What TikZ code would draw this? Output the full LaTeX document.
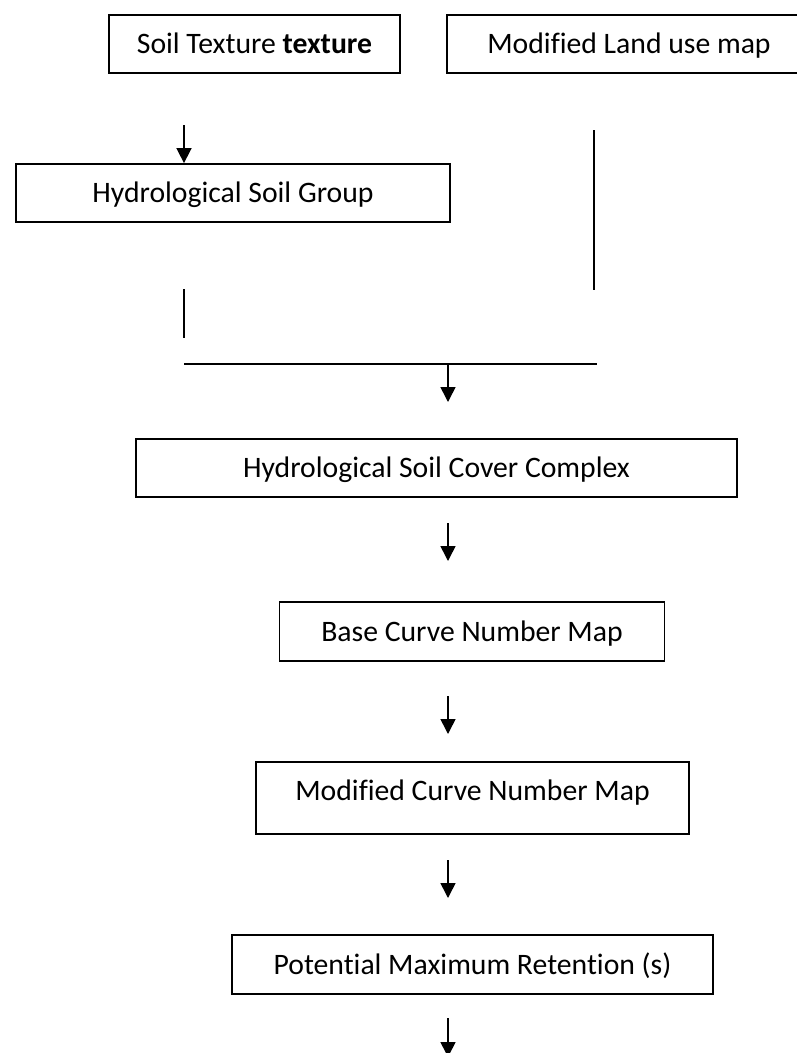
\documentclass[tikz,border=0pt]{standalone}
\usepackage{fontspec}
\setmainfont[Ligatures=NoCommon]{Carlito}
\usetikzlibrary{arrows.meta}
\tikzset{
  x=1pt, y=-1pt,
  stage/.style={draw, line width=1.8pt, inner sep=0pt, align=center,
    text height=19pt, text depth=0pt,
    font=\fontsize{29.7}{35}\selectfont},
  link/.style={line width=1.6pt},
  flow/.style={line width=1.6pt, -{Triangle[length=15pt, width=15pt]}}
}
\begin{document}
\begin{tikzpicture}
\useasboundingbox (0,0) rectangle (797,1053);
\clip (0,0) rectangle (797,1053);

% input layers
\node[stage, minimum width=291pt, minimum height=58pt] (soil) at (254.5,44) {Soil Texture \textbf{texture}};
\node[stage, minimum width=364pt, minimum height=58pt] (land) at (629,44) {Modified Land use map};
\node[stage, minimum width=434pt, minimum height=58pt] (hsg) at (233,193) {Hydrological Soil Group};

% processing chain
\node[stage, minimum width=601pt, minimum height=58pt] (hscc) at (436.5,468) {Hydrological Soil Cover Complex};
\node[stage, minimum width=385pt, minimum height=59pt] (bcn) at (472,631.5) {Base Curve Number Map};
\node[stage, minimum width=433pt, minimum height=72pt, text depth=15pt] (mcn) at (472.5,798) {Modified Curve Number Map};
\node[stage, minimum width=481pt, minimum height=59pt] (pmr) at (472.5,964.5) {Potential Maximum Retention (s)};

% free ends of the connectors
\coordinate (s0) at (184,125);
\coordinate (r0) at (594,130);
\coordinate (r1) at (594,290);
\coordinate (l0) at (184,289);
\coordinate (l1) at (184,338);
\coordinate (m0) at (184,364);
\coordinate (m1) at (597,364);
\coordinate (j)  at (448,364);
\coordinate (a1) at (448,523);
\coordinate (a2) at (448,696);
\coordinate (a3) at (448,860);
\coordinate (a4) at (448,1018);

% connectors
\draw[flow] (s0) -- (s0 |- hsg.north);
\draw[link] (r0) -- (r1);
\draw[link] (l0) -- (l1);
\draw[link] (m0) -- (m1);
\draw[flow] (j) -- ++(0,38);
\draw[flow] (a1) -- ++(0,38);
\draw[flow] (a2) -- ++(0,38);
\draw[flow] (a3) -- ++(0,38);
\draw[flow] (a4) -- ++(0,39);
\end{tikzpicture}
\end{document}
